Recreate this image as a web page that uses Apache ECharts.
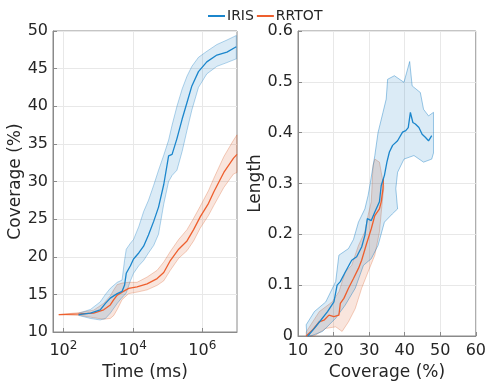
<!DOCTYPE html>
<html>
<head>
<meta charset="utf-8">
<script src="https://cdn.jsdelivr.net/npm/echarts@6/dist/echarts.min.js"></script>
<style>html,body{margin:0;padding:0;background:#fff}#c{width:489px;height:386px}</style>
</head>
<body>
<div id="c"></div>
<script>
// ---- Left panel: coverage (%) vs time (x stored as log10 of time in ms) ----
const irisLogTime = [2.44, 2.78, 3.06, 3.21, 3.35, 3.55, 3.69, 3.76, 3.81, 3.93, 4.02, 4.17, 4.31, 4.45, 4.6, 4.74, 4.89, 5.03, 5.13, 5.27, 5.42, 5.56, 5.70, 5.89, 6.13, 6.42, 6.71, 6.98];
const irisCov     = [12.3, 12.5, 12.95, 13.8, 14.5, 15.1, 15.4, 16.2, 17.8, 18.8, 19.7, 20.5, 21.4, 22.9, 24.7, 26.6, 29.6, 33.4, 33.6, 35.7, 38.3, 40.5, 42.7, 44.6, 45.9, 46.8, 47.2, 47.9];
const irisCovLo   = [12.2, 11.8, 11.6, 11.8, 12.5, 13.8, 14.6, 14.9, 15.2, 16.8, 17.8, 18.8, 19.5, 20.5, 21.5, 23.0, 27.0, 30.0, 30.8, 31.5, 34.0, 36.8, 39.5, 42.5, 44.3, 45.3, 45.8, 46.3];
const irisCovHi   = [12.5, 13.0, 14.0, 15.0, 15.8, 16.6, 16.9, 19.5, 21.0, 21.8, 22.3, 24.0, 26.0, 27.5, 29.5, 31.5, 33.5, 35.5, 37.5, 40.0, 42.3, 44.0, 45.3, 46.5, 47.3, 48.2, 48.8, 49.4];

const rrtotLogTime = [1.865, 2.49, 2.87, 3.16, 3.35, 3.45, 3.55, 3.69, 3.88, 4.12, 4.41, 4.70, 4.89, 5.08, 5.32, 5.56, 5.75, 5.94, 6.18, 6.33, 6.62, 6.9, 7.0];
const rrtotCov     = [12.3, 12.4, 12.5, 12.95, 13.6, 14.3, 14.9, 15.3, 15.8, 16.0, 16.4, 17.1, 17.9, 19.5, 21.0, 22.1, 23.6, 25.3, 27.1, 28.6, 31.2, 33.1, 33.6];
const rrtotCovLo   = [12.3, 12.2, 11.9, 11.7, 11.8, 12.2, 13.0, 14.3, 15.1, 15.3, 15.6, 16.2, 16.8, 18.2, 19.8, 20.8, 22.1, 23.8, 25.5, 26.8, 29.2, 31.0, 31.2];
const rrtotCovHi   = [12.3, 12.6, 12.9, 13.8, 14.8, 15.6, 16.3, 16.5, 16.6, 16.6, 17.3, 18.2, 19.3, 20.7, 22.3, 23.6, 25.1, 26.7, 28.8, 30.4, 33.3, 35.5, 36.2];

const timeTickExponents = [2, 4, 6];

// ---- Right panel: length vs coverage (%) ----
const irisLineCov = [12.75, 14.6, 16.4, 18.3, 20.1, 21.0, 21.9, 23.3, 25.1, 26.5, 27.9, 28.8, 29.5, 30.6, 31.6, 32.9, 33.4, 34.3, 35.0, 35.7, 36.6, 38.0, 39.4, 40.3, 41.0, 41.6, 42.3, 43.0, 44.0, 44.9, 45.8, 46.7, 47.6];
const irisLineLen = [0, 0.015, 0.031, 0.048, 0.067, 0.10, 0.107, 0.126, 0.149, 0.156, 0.175, 0.198, 0.231, 0.227, 0.244, 0.264, 0.296, 0.316, 0.342, 0.362, 0.375, 0.384, 0.401, 0.404, 0.41, 0.44, 0.42, 0.417, 0.41, 0.397, 0.391, 0.384, 0.394];
const irisUpperCov = [12.5, 12.3, 14.6, 17.8, 20.6, 21.5, 24.2, 25.6, 27.0, 28.8, 29.7, 30.2, 31.6, 32.5, 33.9, 34.8, 35.2, 37.1, 39.8, 41.4, 42.1, 44.4, 45.3, 46.7, 48.1];
const irisUpperLen = [0, 0.022, 0.048, 0.067, 0.107, 0.159, 0.172, 0.19, 0.224, 0.25, 0.276, 0.296, 0.355, 0.40, 0.44, 0.466, 0.505, 0.512, 0.499, 0.54, 0.492, 0.479, 0.446, 0.433, 0.44];
const irisLowerCov = [12.5, 13.6, 16.9, 20.6, 23.3, 26.1, 28.4, 30.6, 32.5, 34.3, 36.5, 38.0, 37.5, 38.0, 39.8, 42.6, 45.3, 47.6, 48.1];
const irisLowerLen = [0, 0, 0.009, 0.035, 0.061, 0.094, 0.139, 0.152, 0.178, 0.224, 0.24, 0.25, 0.29, 0.322, 0.348, 0.355, 0.342, 0.348, 0.36];

const rrtotLineCov = [12.3, 14.1, 16.0, 17.3, 18.7, 20.1, 21.5, 21.9, 22.9, 24.2, 25.6, 27.0, 27.9, 29.3, 30.6, 31.6, 32.9, 33.4, 33.9, 34.0];
const rrtotLineLen = [0, 0.012, 0.028, 0.031, 0.041, 0.038, 0.041, 0.064, 0.074, 0.094, 0.113, 0.133, 0.149, 0.182, 0.211, 0.237, 0.25, 0.264, 0.29, 0.309];
const rrtotUpperCov = [12.3, 12.3, 16.0, 19.6, 21.5, 23.3, 25.1, 27.0, 28.8, 29.7, 30.6, 31.1, 31.6, 32.9, 33.4, 34.1];
const rrtotUpperLen = [0, 0.008, 0.048, 0.067, 0.087, 0.126, 0.139, 0.178, 0.205, 0.237, 0.264, 0.335, 0.348, 0.342, 0.322, 0.296];
const rrtotLowerCov = [12.3, 14.6, 17.8, 20.6, 22.4, 24.2, 26.1, 27.9, 29.7, 31.6, 32.9, 33.7, 34.1];
const rrtotLowerLen = [0, 0, 0.015, 0.018, 0.009, 0.028, 0.054, 0.094, 0.126, 0.159, 0.205, 0.264, 0.29];

const seriesNames = ['IRIS', 'RRTOT'];

// ---- styling ----
const BLUE = '#1b86cc', ORANGE = '#ee5f2e';
const BLUE_FILL = 'rgba(0,114,189,0.14)', ORANGE_FILL = 'rgba(217,83,25,0.15)';
const BLUE_EDGE = 'rgba(0,114,189,0.30)', ORANGE_EDGE = 'rgba(217,83,25,0.28)';
const FONT = 'DejaVu Sans';
const AXIS_C = '#8a8a8a', TEXT_C = '#262626', GRID_C = '#e8e8e8';

const zip = (a, b) => a.map((v, i) => [v, b[i]]);

function bandSeries(name, xi, yi, upper, lower, fill, edge) {
  // polygon = upper edge followed by reversed lower edge, through the axis scales
  const pts = upper.concat(lower.slice().reverse());
  return {
    type: 'custom', name: name, xAxisIndex: xi, yAxisIndex: yi, z: 1, silent: true,
    data: pts,
    renderItem: function (params, api) {
      if (params.dataIndex !== 0) return null;
      const poly = pts.map(p => api.coord(p));
      return { type: 'polygon', shape: { points: poly },
               style: { fill: fill, stroke: edge, lineWidth: 1 } };
    },
    encode: { x: 0, y: 1 }
  };
}
function bandFromRows(x, lo, hi) {
  return { upper: zip(x, hi), lower: zip(x, lo) };
}
function lineSeries(name, xi, yi, data, color) {
  return { type: 'line', name: name, xAxisIndex: xi, yAxisIndex: yi, data: data, z: 3,
           showSymbol: false, symbol: 'none', lineStyle: { color: color, width: 1.3 },
           itemStyle: { color: color }, animation: false };
}

const irisBandL = bandFromRows(irisLogTime, irisCovLo, irisCovHi);
const rrtotBandL = bandFromRows(rrtotLogTime, rrtotCovLo, rrtotCovHi);

const axisCommon = {
  axisLine: { show: true, lineStyle: { color: AXIS_C, width: 1 } },
  axisTick: { show: true, inside: true, length: 4, lineStyle: { color: AXIS_C } },
  splitLine: { show: true, lineStyle: { color: GRID_C, width: 1 } },
  axisLabel: { color: TEXT_C, fontFamily: FONT, fontSize: 16 },
  nameTextStyle: { color: TEXT_C, fontFamily: FONT, fontSize: 17 },
  nameLocation: 'middle'
};
function ax(extra) {
  const o = JSON.parse(JSON.stringify(axisCommon));
  for (const k in extra) {
    if (typeof extra[k] === 'object' && !Array.isArray(extra[k]) && o[k]) Object.assign(o[k], extra[k]);
    else o[k] = extra[k];
  }
  return o;
}

const option = {
  animation: false,
  backgroundColor: '#fff',
  textStyle: { fontFamily: FONT },
  legend: {
    top: 4, left: 203, itemGap: 3, itemWidth: 17, itemHeight: 2,
    icon: 'rect',
    textStyle: { fontFamily: FONT, fontSize: 14, color: TEXT_C, padding: [0, 0, 0, -3] },
    data: [{ name: seriesNames[0], itemStyle: { color: BLUE } },
           { name: seriesNames[1], itemStyle: { color: ORANGE } }]
  },
  grid: [
    { left: 53, top: 31, width: 184, height: 307, show: true, borderColor: AXIS_C, borderWidth: 1, backgroundColor: 'transparent' },
    { left: 298, top: 31, width: 182, height: 307, show: true, borderColor: AXIS_C, borderWidth: 1, backgroundColor: 'transparent' }
  ],
  xAxis: [
    ax({ type: 'value', gridIndex: 0, min: 1.7, max: 7, name: 'Time (ms)', nameGap: 32,
         axisTick: { customValues: timeTickExponents },
         axisLabel: { customValues: timeTickExponents, margin: 8,
                      formatter: v => '10{s|' + v + '}',
                      rich: { s: { fontSize: 12, fontFamily: FONT, color: TEXT_C, padding: [0, 0, 9, 0] } } } }),
    ax({ type: 'value', gridIndex: 1, min: 10, max: 60, interval: 10, name: 'Coverage (%)', nameGap: 28,
         axisLabel: { margin: 7 } })
  ],
  yAxis: [
    ax({ type: 'value', gridIndex: 0, min: 10, max: 50, interval: 5, name: 'Coverage (%)', nameGap: 28,
         axisLabel: { margin: 5 } }),
    ax({ type: 'value', gridIndex: 1, min: 0, max: 0.6, interval: 0.1, name: 'Length', nameGap: 32,
         axisLabel: { margin: 5 } })
  ],
  series: [
    bandSeries('RRTOT band L', 0, 0, rrtotBandL.upper, rrtotBandL.lower, ORANGE_FILL, ORANGE_EDGE),
    bandSeries('IRIS band L', 0, 0, irisBandL.upper, irisBandL.lower, BLUE_FILL, BLUE_EDGE),
    lineSeries(seriesNames[1], 0, 0, zip(rrtotLogTime, rrtotCov), ORANGE),
    lineSeries(seriesNames[0], 0, 0, zip(irisLogTime, irisCov), BLUE),
    bandSeries('RRTOT band R', 1, 1, zip(rrtotUpperCov, rrtotUpperLen), zip(rrtotLowerCov, rrtotLowerLen), ORANGE_FILL, ORANGE_EDGE),
    bandSeries('IRIS band R', 1, 1, zip(irisUpperCov, irisUpperLen), zip(irisLowerCov, irisLowerLen), BLUE_FILL, 'rgba(0,114,189,0.38)'),
    lineSeries(seriesNames[1], 1, 1, zip(rrtotLineCov, rrtotLineLen), ORANGE),
    lineSeries(seriesNames[0], 1, 1, zip(irisLineCov, irisLineLen), BLUE)
  ]
};

const chart = echarts.init(document.getElementById('c'), null, { renderer: 'canvas' });
chart.setOption(option);
</script>
</body>
</html>
